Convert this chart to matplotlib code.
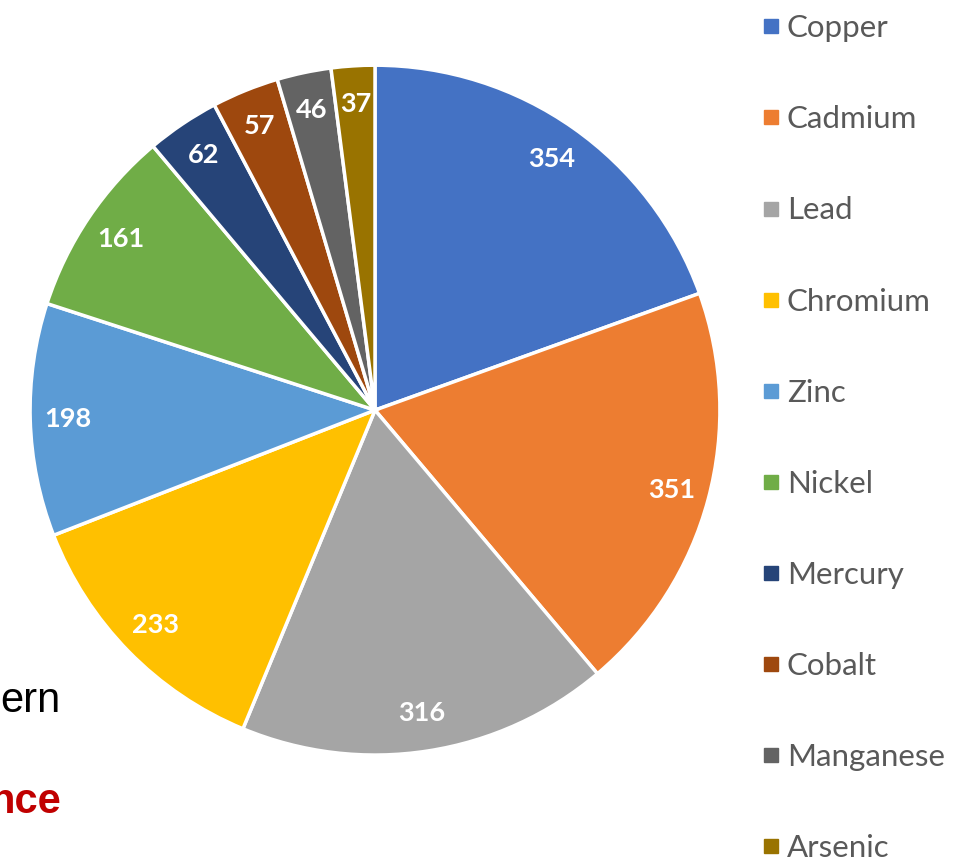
import matplotlib.pyplot as plt
from matplotlib.lines import Line2D

metals = ["Copper", "Cadmium", "Lead", "Chromium", "Zinc", "Nickel",
          "Mercury", "Cobalt", "Manganese", "Arsenic"]
counts = [354, 351, 316, 233, 198, 161, 62, 57, 46, 37]
colors = ["#4472C4", "#ED7D31", "#A5A5A5", "#FFC000", "#5B9BD5",
          "#70AD47", "#264478", "#9E480E", "#636363", "#997300"]

fig = plt.figure(figsize=(9.69, 8.58), dpi=100)
ax = fig.add_axes([0.031, 0.120, 0.712, 0.804])

wedges, texts = ax.pie(counts, colors=colors, startangle=90, counterclock=False,
                       labels=[str(c) for c in counts], labeldistance=0.89,
                       wedgeprops=dict(edgecolor="white", linewidth=2.5))
for t in texts:
    t.set_color("white")
    t.set_fontweight("bold")
    t.set_fontsize(19.5)
    t.set_fontfamily("Lato")
    t.set_horizontalalignment("center")
    t.set_verticalalignment("center")
ax.set_xlim(-1.0, 1.0)
ax.set_ylim(-1.0, 1.0)
ax.set_aspect("equal")

handles = [Line2D([], [], marker="s", linestyle="none", markersize=10.5,
                  markerfacecolor=c, markeredgecolor=c) for c in colors]
leg = fig.legend(handles, metals, loc="upper left", bbox_to_anchor=(0.775, 0.998),
                 frameon=False, handlelength=0.5, handletextpad=0.25,
                 labelspacing=2.02, borderaxespad=0,
                 prop={"family": "Lato", "size": 22.5})
for t in leg.get_texts():
    t.set_color("#595959")

# slide text partly cut off at the left edge
fig.text(61 / 969, 1 - 712 / 858, "ern", ha="right", va="baseline",
         fontsize=30, family="Liberation Sans", color="black")
fig.text(61 / 969, 1 - 813 / 858, "nce", ha="right", va="baseline",
         fontsize=30, family="Liberation Sans", fontweight="bold", color="#C00000")

fig.savefig("out.png", dpi=100)
